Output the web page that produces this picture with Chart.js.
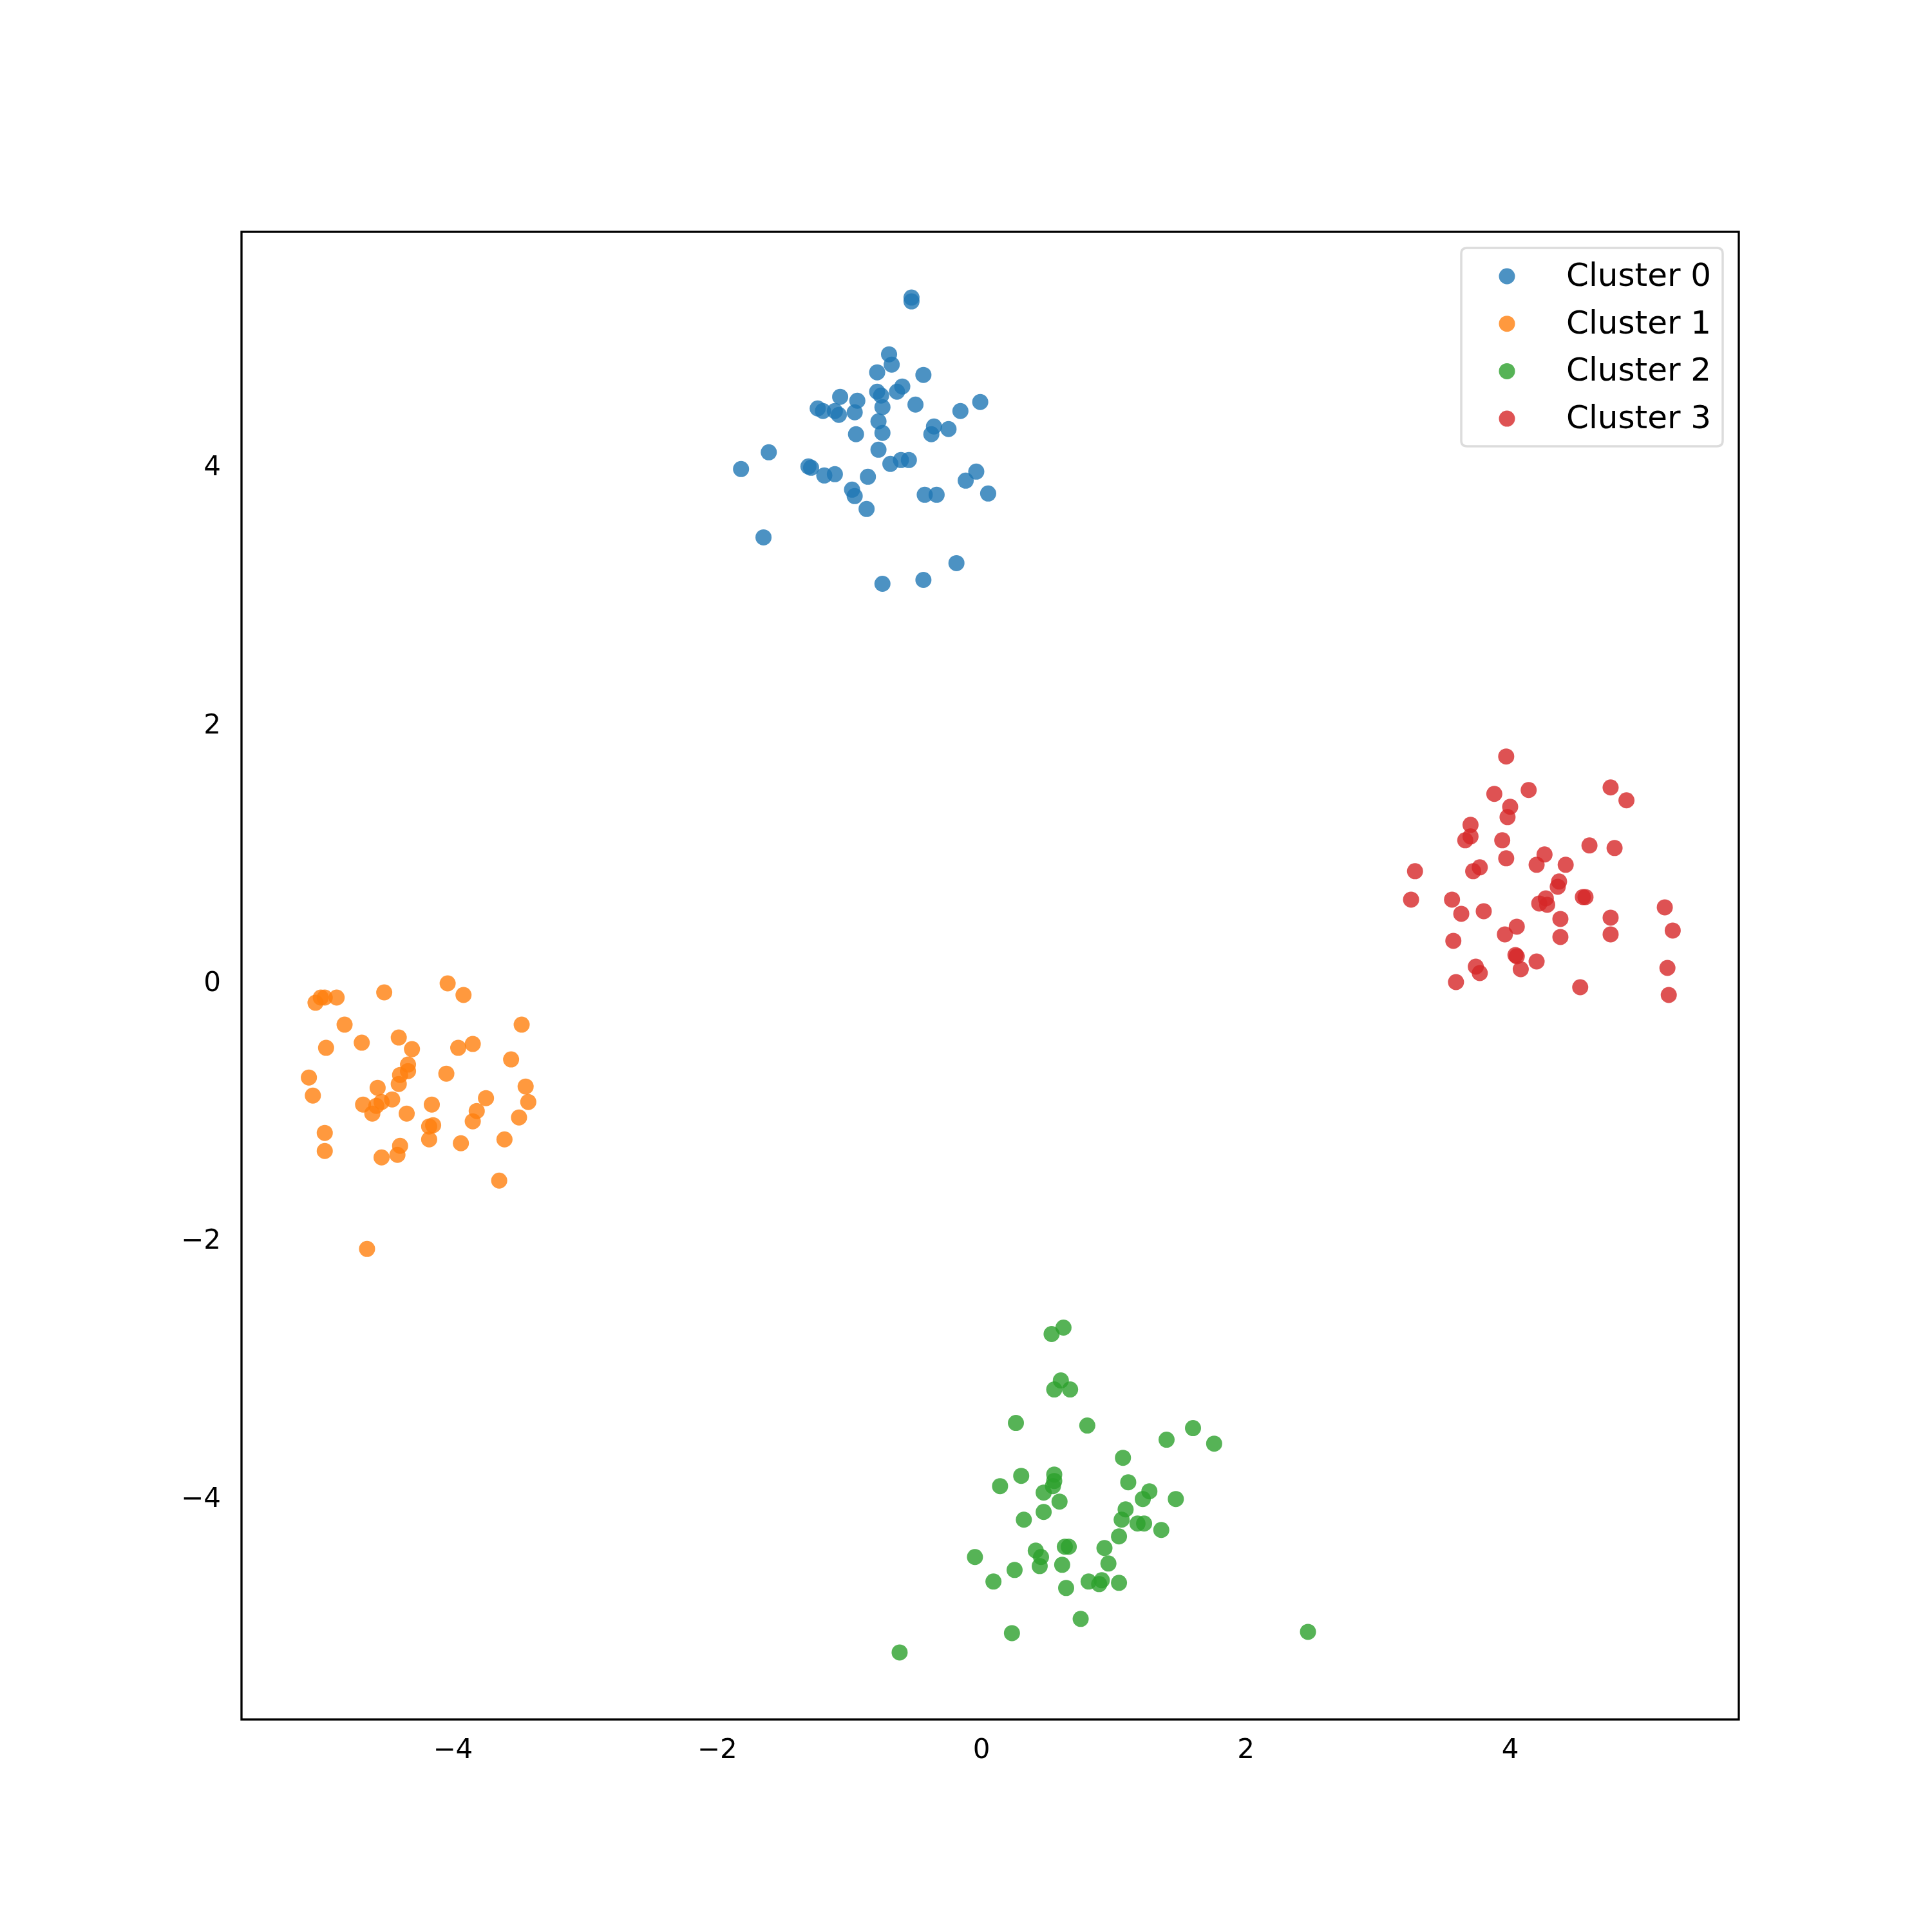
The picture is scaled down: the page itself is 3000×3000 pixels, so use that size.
<!DOCTYPE html>
<html>
<head>
<meta charset="utf-8">
<script src="https://cdn.jsdelivr.net/npm/chart.js@4.4.1/dist/chart.umd.min.js"></script>
<style>
  html, body { margin: 0; padding: 0; background: #ffffff; }
  #wrap { width: 3000px; height: 3000px; }
</style>
</head>
<body>
<div id="wrap"><canvas id="c" width="3000" height="3000"></canvas></div>
<script>
const clusterLabels = ['Cluster 0', 'Cluster 1', 'Cluster 2', 'Cluster 3'];
const clusterColors = ['rgba(31,119,180,0.8)', 'rgba(255,127,14,0.8)', 'rgba(44,160,44,0.8)', 'rgba(214,39,40,0.8)'];

const cluster0X = [-0.53,-0.53,-0.70,-0.68,-0.79,-0.44,-0.79,-0.76,-0.60,-0.64,-0.01,-0.50,-1.07,-0.94,-1.24,-1.20,-1.11,-1.08,-0.96,-0.75,-0.16,-0.78,-0.75,-0.95,-0.36,-0.38,-0.25,-0.78,-1.61,-1.82,-1.31,-1.29,-1.19,-1.11,-0.69,-0.61,-0.55,-0.86,-0.04,-0.12,-0.98,-0.96,-0.87,-0.43,-0.34,0.05,-1.65,-0.19,-0.75,-0.44];
const cluster0Y = [5.31,5.28,4.87,4.79,4.73,4.71,4.58,4.55,4.62,4.58,4.50,4.48,4.54,4.51,4.45,4.43,4.43,4.40,4.42,4.46,4.43,4.35,4.26,4.25,4.31,4.25,4.29,4.13,4.11,3.98,4.00,3.99,3.93,3.94,4.02,4.05,4.05,3.92,3.96,3.89,3.82,3.77,3.67,3.78,3.78,3.79,3.45,3.25,3.09,3.12];

const cluster1X = [-4.04,-3.92,-4.52,-5.04,-5.00,-4.97,-4.88,-3.48,-4.82,-4.69,-4.96,-4.41,-4.31,-3.96,-3.85,-3.56,-5.09,-4.34,-4.34,-4.40,-4.41,-4.05,-5.06,-4.57,-3.45,-3.43,-3.75,-4.46,-4.54,-4.58,-4.68,-4.61,-4.35,-4.16,-3.82,-3.85,-3.50,-4.15,-4.18,-4.18,-4.97,-4.97,-4.40,-4.42,-4.54,-3.94,-3.61,-3.65,-4.65];
const cluster1Y = [-0.01,-0.10,-0.08,-0.16,-0.12,-0.12,-0.12,-0.33,-0.33,-0.47,-0.51,-0.43,-0.52,-0.51,-0.48,-0.60,-0.74,-0.64,-0.69,-0.72,-0.79,-0.71,-0.88,-0.82,-0.81,-0.93,-0.90,-0.91,-0.93,-0.96,-0.95,-1.02,-1.02,-0.95,-1.00,-1.08,-1.05,-1.11,-1.12,-1.22,-1.17,-1.31,-1.27,-1.34,-1.36,-1.25,-1.22,-1.54,-2.07];

const cluster2X = [0.62,0.53,0.60,0.55,0.67,0.26,0.80,1.60,1.40,1.76,1.07,0.30,0.55,0.55,0.14,0.54,0.47,1.11,1.27,1.22,1.47,0.59,0.47,1.09,0.32,1.06,1.18,1.23,1.36,1.04,0.41,0.45,0.63,0.66,0.93,-0.05,0.44,0.61,0.96,0.25,0.09,0.81,0.91,0.89,1.04,0.64,0.75,0.23,2.47,-0.62];
const cluster2Y = [-2.68,-2.73,-3.09,-3.16,-3.16,-3.42,-3.44,-3.46,-3.55,-3.58,-3.69,-3.83,-3.82,-3.87,-3.91,-3.91,-3.96,-3.88,-3.95,-4.01,-4.01,-4.03,-4.11,-4.09,-4.17,-4.17,-4.20,-4.20,-4.25,-4.30,-4.41,-4.46,-4.38,-4.38,-4.39,-4.46,-4.53,-4.52,-4.51,-4.56,-4.65,-4.65,-4.64,-4.67,-4.66,-4.70,-4.94,-5.05,-5.04,-5.20];

const cluster3X = [3.97,4.76,4.88,3.88,4.14,4.00,3.98,3.70,3.70,3.66,3.94,4.60,4.79,4.26,3.97,4.20,4.42,3.28,3.77,3.72,4.37,4.36,3.25,3.56,3.63,3.80,4.27,4.22,4.28,4.55,4.57,5.17,4.38,4.76,4.05,3.96,4.38,4.76,5.23,3.57,4.04,4.05,4.20,3.74,3.77,4.08,3.59,4.53,5.19,5.20];
const cluster3Y = [1.75,1.51,1.41,1.46,1.49,1.36,1.28,1.22,1.13,1.10,1.10,1.06,1.04,0.99,0.96,0.91,0.91,0.86,0.89,0.86,0.78,0.74,0.64,0.64,0.53,0.55,0.65,0.61,0.60,0.66,0.66,0.58,0.49,0.50,0.43,0.37,0.35,0.37,0.40,0.32,0.21,0.20,0.16,0.12,0.07,0.10,0.00,-0.04,0.11,-0.10];

const xTicks = [-4, -2, 0, 2, 4];
const yTicks = [-4, -2, 0, 2, 4];
const xRange = [-5.60, 5.73];
const yRange = [-5.72, 5.82];

const seriesX = [cluster0X, cluster1X, cluster2X, cluster3X];
const seriesY = [cluster0Y, cluster1Y, cluster2Y, cluster3Y];

const datasets = clusterLabels.map((label, i) => ({
  label: label,
  data: seriesX[i].map((x, j) => ({ x: x, y: seriesY[i][j] })),
  backgroundColor: clusterColors[i],
  borderWidth: 0,
  pointRadius: 12.5,
  pointHoverRadius: 12.5,
  order: clusterLabels.length - i
}));

const FONT = 'DejaVu Sans';
const fmt = v => (v < 0 ? '\u2212' + Math.abs(v) : String(v));

const framePlugin = {
  id: 'frame',
  afterDraw(chart) {
    const ctx = chart.ctx;
    const a = chart.chartArea;
    ctx.save();
    ctx.strokeStyle = '#000000';
    ctx.lineWidth = 3.3;
    ctx.strokeRect(a.left, a.top, a.right - a.left, a.bottom - a.top);

    // legend box (upper right, inside the axes)
    const bx1 = a.right - 25, by0 = a.top + 25;
    const bx0 = bx1 - 406, by1 = by0 + 308;
    const r = 9;
    ctx.beginPath();
    ctx.moveTo(bx0 + r, by0);
    ctx.lineTo(bx1 - r, by0);
    ctx.quadraticCurveTo(bx1, by0, bx1, by0 + r);
    ctx.lineTo(bx1, by1 - r);
    ctx.quadraticCurveTo(bx1, by1, bx1 - r, by1);
    ctx.lineTo(bx0 + r, by1);
    ctx.quadraticCurveTo(bx0, by1, bx0, by1 - r);
    ctx.lineTo(bx0, by0 + r);
    ctx.quadraticCurveTo(bx0, by0, bx0 + r, by0);
    ctx.closePath();
    ctx.fillStyle = 'rgba(255,255,255,0.8)';
    ctx.fill();
    ctx.strokeStyle = '#dcdcdc';
    ctx.lineWidth = 3.5;
    ctx.stroke();

    ctx.font = '50px "' + FONT + '"';
    ctx.textAlign = 'left';
    ctx.textBaseline = 'alphabetic';
    chart.data.datasets.forEach((ds, i) => {
      const cy = by0 + 44 + i * 73.7;
      ctx.beginPath();
      ctx.arc(bx0 + 71, cy, 12.5, 0, Math.PI * 2);
      ctx.fillStyle = ds.backgroundColor;
      ctx.fill();
      ctx.fillStyle = '#000000';
      ctx.fillText(ds.label, bx0 + 163, cy + 15);
    });
    ctx.restore();
  }
};

new Chart(document.getElementById('c'), {
  type: 'scatter',
  data: { datasets: datasets },
  options: {
    responsive: false,
    animation: false,
    devicePixelRatio: 1,
    layout: { padding: { top: 360, right: 300, left: 0, bottom: 0 } },
    plugins: {
      legend: { display: false },
      tooltip: { enabled: false },
      title: { display: false }
    },
    scales: {
      x: {
        type: 'linear',
        min: xRange[0],
        max: xRange[1],
        grid: { display: false, drawTicks: false },
        border: { display: false },
        afterBuildTicks: s => { s.ticks = xTicks.map(v => ({ value: v })); },
        afterFit: s => { s.height = 330; },
        ticks: {
          color: '#000000',
          font: { family: FONT, size: 42 },
          padding: 24,
          maxRotation: 0,
          callback: v => fmt(v)
        }
      },
      y: {
        type: 'linear',
        min: yRange[0],
        max: yRange[1],
        grid: { display: false, drawTicks: false },
        border: { display: false },
        afterBuildTicks: s => { s.ticks = yTicks.map(v => ({ value: v })); },
        afterFit: s => { s.width = 375; },
        ticks: {
          color: '#000000',
          font: { family: FONT, size: 42 },
          padding: 32,
          labelOffset: 3,
          callback: v => fmt(v)
        }
      }
    }
  },
  plugins: [framePlugin]
});
</script>
</body>
</html>
